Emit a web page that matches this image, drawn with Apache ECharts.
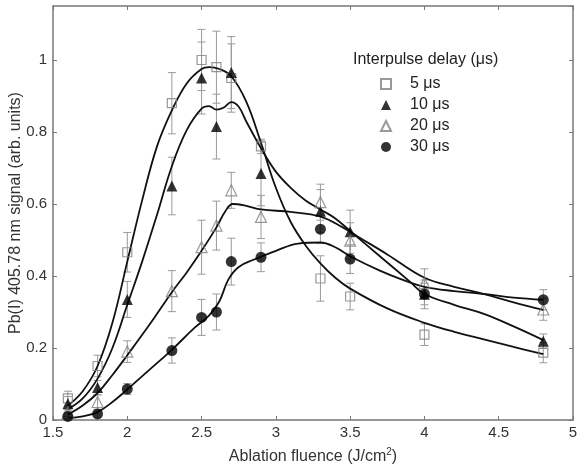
<!DOCTYPE html>
<html><head><meta charset="utf-8">
<script src="https://cdn.jsdelivr.net/npm/echarts@6/dist/echarts.min.js"></script>
<style>html,body{margin:0;padding:0;background:#fff}#c{width:582px;height:467px}</style>
</head><body><div id="c"></div>
<script>
// measured fluences (J/cm^2)
const xs = [1.6, 1.8, 2.0, 2.3, 2.5, 2.6, 2.7, 2.9, 3.3, 3.5, 4.0, 4.8];
// signal values and half error bars per delay
const y5  = [0.06, 0.15, 0.466, 0.88, 1.0, 0.98, 0.95, 0.76, 0.393, 0.343, 0.237, 0.187];
const e5  = [0.02, 0.03, 0.055, 0.085, 0.085, 0.1, 0.095, 0.02, 0.063, 0.037, 0.03, 0.028];
const y10 = [0.045, 0.09, 0.335, 0.65, 0.95, 0.815, 0.965, 0.685, 0.58, 0.523, 0.349, 0.219];
const e10 = [0.02, 0.02, 0.05, 0.08, 0.1, 0.09, 0.1, 0.09, 0.06, 0.06, 0.04, 0.02];
const y20 = [0.02, 0.05, 0.19, 0.358, 0.48, 0.54, 0.638, 0.564, 0.605, 0.498, 0.38, 0.307];
const e20 = [0.01, 0.02, 0.03, 0.057, 0.075, 0.068, 0.05, 0.06, 0.05, 0.05, 0.04, 0.03];
const y30 = [0.01, 0.017, 0.086, 0.193, 0.285, 0.30, 0.44, 0.452, 0.53, 0.447, 0.35, 0.334];
const e30 = [0.01, 0.01, 0.015, 0.035, 0.05, 0.05, 0.065, 0.04, 0.04, 0.04, 0.03, 0.028];
// fitted curves
const c5  = [[1.6,0.04],[1.7,0.08],[1.8,0.15],[1.9,0.27],[2.0,0.44],[2.1,0.61],[2.2,0.76],[2.3,0.86],[2.4,0.935],[2.5,0.975],[2.55,0.98],[2.62,0.975],[2.7,0.955],[2.8,0.885],[2.9,0.77],[3.0,0.645],[3.1,0.55],[3.2,0.485],[3.3,0.435],[3.4,0.395],[3.5,0.365],[3.75,0.31],[4.0,0.27],[4.2,0.245],[4.4,0.224],[4.6,0.203],[4.8,0.183]];
const c10 = [[1.6,0.03],[1.7,0.06],[1.8,0.115],[1.9,0.2],[2.0,0.32],[2.1,0.44],[2.2,0.57],[2.3,0.705],[2.4,0.805],[2.5,0.865],[2.55,0.872],[2.6,0.862],[2.65,0.868],[2.7,0.883],[2.75,0.87],[2.8,0.83],[2.9,0.755],[3.0,0.69],[3.1,0.645],[3.2,0.61],[3.3,0.585],[3.4,0.56],[3.5,0.525],[3.7,0.455],[3.9,0.385],[4.0,0.35],[4.2,0.32],[4.4,0.295],[4.6,0.26],[4.8,0.222]];
const c20 = [[1.6,0.015],[1.7,0.04],[1.8,0.075],[1.9,0.125],[2.0,0.18],[2.15,0.265],[2.3,0.355],[2.4,0.41],[2.5,0.47],[2.6,0.535],[2.66,0.58],[2.71,0.6],[2.8,0.595],[2.9,0.585],[3.1,0.578],[3.3,0.565],[3.45,0.535],[3.57,0.505],[3.75,0.46],[4.0,0.395],[4.2,0.37],[4.4,0.35],[4.6,0.327],[4.8,0.306]];
const c30 = [[1.6,0.005],[1.7,0.01],[1.8,0.022],[1.9,0.05],[2.0,0.085],[2.15,0.14],[2.3,0.195],[2.45,0.255],[2.55,0.29],[2.62,0.33],[2.68,0.39],[2.75,0.425],[2.85,0.445],[3.0,0.47],[3.15,0.49],[3.3,0.493],[3.4,0.48],[3.5,0.455],[3.7,0.415],[3.85,0.39],[4.0,0.37],[4.2,0.358],[4.4,0.35],[4.6,0.34],[4.8,0.334]];
const xTicks = [1.5, 2, 2.5, 3, 3.5, 4, 4.5, 5];
const yTicks = [0, 0.2, 0.4, 0.6, 0.8, 1];
const names = ['5 μs', '10 μs', '20 μs', '30 μs'];

const FONT = 'Liberation Sans';
const GRAY = '#808080';

function errData(y, e) { return xs.map((x, i) => [x, y[i] - e[i], y[i] + e[i]]); }
function errSeries(y, e) {
  return {
    type: 'custom', xAxisIndex: 0, yAxisIndex: 0, z: 2, silent: true,
    data: errData(y, e), encode: { x: 0, y: [1, 2] },
    renderItem: function (params, api) {
      const x = api.value(0);
      const a = api.coord([x, api.value(1)]);
      const b = api.coord([x, api.value(2)]);
      const w = 4;
      const st = { stroke: '#9a9a9a', lineWidth: 1 };
      return { type: 'group', children: [
        { type: 'line', shape: { x1: a[0], y1: a[1], x2: b[0], y2: b[1] }, style: st },
        { type: 'line', shape: { x1: a[0] - w, y1: a[1], x2: a[0] + w, y2: a[1] }, style: st },
        { type: 'line', shape: { x1: b[0] - w, y1: b[1], x2: b[0] + w, y2: b[1] }, style: st }
      ]};
    }
  };
}
function curve(c) {
  return { type: 'line', data: c, smooth: 0.4, showSymbol: false, silent: true, z: 3,
    lineStyle: { color: '#111', width: 1.8 }, xAxisIndex: 0, yAxisIndex: 0 };
}
function pts(name, y, symbol, size, style) {
  return { type: 'scatter', name: name, data: xs.map((x, i) => [x, y[i]]), symbol: symbol,
    symbolSize: size, itemStyle: style, z: 5, xAxisIndex: 0, yAxisIndex: 0 };
}
const openStyle = { color: 'rgba(255,255,255,0)', borderColor: GRAY, borderWidth: 1.2 };
const fillStyle = { color: '#000', borderColor: '#000', borderWidth: 0 };

const axisLine = { show: true, onZero: false, lineStyle: { color: '#777', width: 1.5 } };
const axisTick = { show: true, inside: true, length: 4, lineStyle: { color: '#777', width: 1 } };
const labelStyle = { color: '#333', fontFamily: FONT, fontSize: 15 };

const chart = echarts.init(document.getElementById('c'), null, { renderer: 'canvas' });
chart.setOption({
  animation: false,
  backgroundColor: '#fff',
  title: { text: 'Interpulse delay (μs)', left: 353, top: 52, padding: 0,
    textStyle: { fontFamily: FONT, fontSize: 16, fontWeight: 'normal', color: '#222' } },
  legend: {
    data: names, orient: 'vertical', left: 380, top: 76, itemGap: 5, padding: 0,
    itemWidth: 10, itemHeight: 10,
    textStyle: { fontFamily: FONT, fontSize: 16, color: '#222', padding: [0, 0, 0, 14] }
  },
  grid: { left: 53, right: 9, top: 6, bottom: 47, containLabel: false, outerBoundsMode: 'none' },
  xAxis: [
    { type: 'value', min: 1.5, max: 5, interval: 0.5, position: 'bottom',
      axisLine: axisLine, axisTick: axisTick, splitLine: { show: false },
      axisLabel: Object.assign({ margin: 5, formatter: v => (xTicks.indexOf(v) >= 0 ? String(v) : '') }, labelStyle),
      name: '{a|Ablation fluence (J/cm}{s|2}{a|)}', nameLocation: 'middle', nameGap: 27,
      nameTextStyle: { rich: {
        a: { fontFamily: FONT, fontSize: 16, color: '#333' },
        s: { fontFamily: FONT, fontSize: 10, color: '#333', verticalAlign: 'top', padding: [0, 0, 9, 0] } } } },
    { type: 'value', min: 1.5, max: 5, interval: 0.5, position: 'top',
      axisLine: axisLine, axisTick: axisTick, axisLabel: { show: false }, splitLine: { show: false } }
  ],
  yAxis: [
    { type: 'value', min: 0, max: 1.15, interval: 0.2, position: 'left',
      axisLine: axisLine, axisTick: axisTick, splitLine: { show: false },
      axisLabel: Object.assign({ margin: 6, showMaxLabel: false,
        formatter: v => (yTicks.indexOf(Math.round(v * 10) / 10) >= 0 && v <= 1.001 ? String(Math.round(v * 10) / 10) : '') }, labelStyle),
      name: 'Pb(I) 405.78 nm signal (arb. units)', nameLocation: 'middle', nameGap: 29,
      nameMoveOverlap: false,
      nameTextStyle: { fontFamily: FONT, fontSize: 16, color: '#333' } },
    { type: 'value', min: 0, max: 1.15, interval: 0.2, position: 'right',
      axisLine: axisLine, axisTick: axisTick, axisLabel: { show: false }, splitLine: { show: false } }
  ],
  series: [
    errSeries(y5, e5), errSeries(y10, e10), errSeries(y20, e20), errSeries(y30, e30),
    curve(c5), curve(c10), curve(c20), curve(c30),
    pts(names[0], y5, 'rect', 9, openStyle),
    pts(names[1], y10, 'triangle', 11, fillStyle),
    pts(names[2], y20, 'triangle', 11, openStyle),
    pts(names[3], y30, 'circle', 11, fillStyle)
  ]
});
</script></body></html>
